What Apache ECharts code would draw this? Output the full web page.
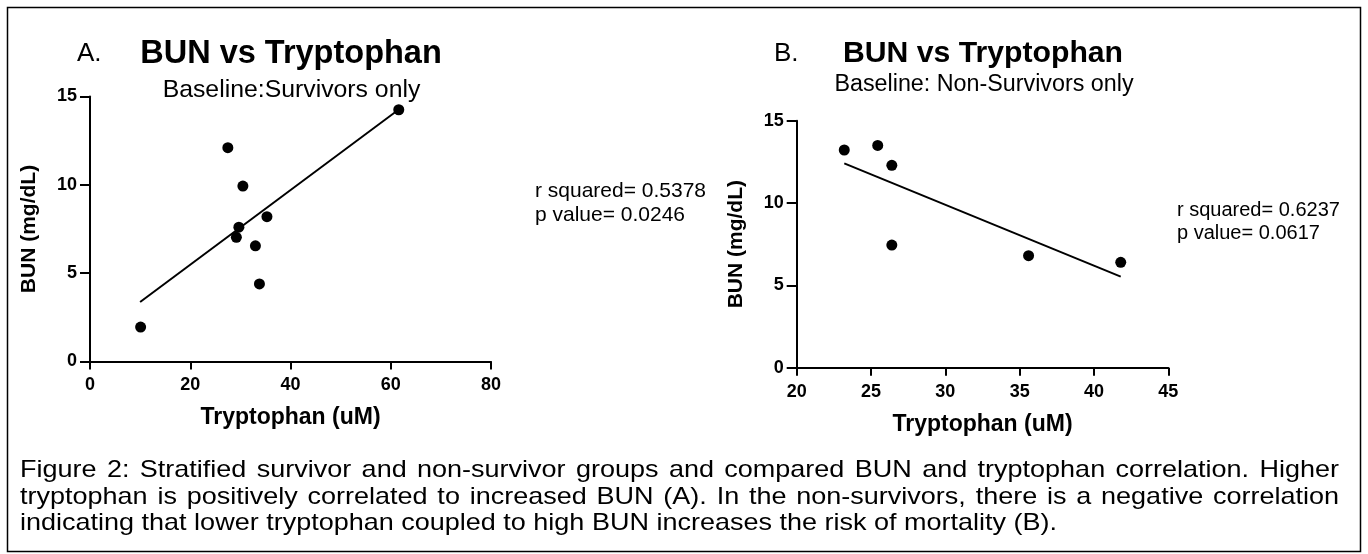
<!DOCTYPE html>
<html><head><meta charset="utf-8">
<script src="https://cdn.jsdelivr.net/npm/echarts@6/dist/echarts.min.js"></script>
<style>html,body{margin:0;padding:0;background:#fff}#c{width:1368px;height:554px}</style>
</head><body><div id="c"></div>
<script>
// ---- Data ----
const survivorTrp = [10.1, 27.5, 29.2, 29.7, 30.5, 33.0, 33.8, 35.3, 61.6];
const survivorBun = [1.95, 12.1, 7.03, 7.6, 9.93, 6.55, 4.39, 8.2, 14.25];
const survivorFitTrp = [10.0, 61.2];
const survivorFitBun = [3.37, 14.18];
const nonSurvivorTrp = [23.2, 25.45, 26.4, 26.4, 35.6, 41.8];
const nonSurvivorBun = [13.22, 13.5, 12.29, 7.45, 6.8, 6.4];
const nonSurvivorFitTrp = [23.2, 41.8];
const nonSurvivorFitBun = [12.41, 5.53];
const xTicksA = [0, 20, 40, 60, 80];
const xTicksB = [20, 25, 30, 35, 40, 45];
const yTicks = [0, 5, 10, 15];
const statsA = ['r squared= 0.5378', 'p value= 0.0246'];
const statsB = ['r squared= 0.6237', 'p value= 0.0617'];
const captionLines = [
  'Figure 2: Stratified survivor and non-survivor groups and compared BUN and tryptophan correlation. Higher',
  'tryptophan is positively correlated to increased BUN (A). In the non-survivors, there is a negative correlation',
  'indicating that lower tryptophan coupled to high BUN increases the risk of mortality (B).'
];

const FF = '"Liberation Sans", Arial, Helvetica, sans-serif';
const pairs = (xs, ys) => xs.map((x, i) => [x, ys[i]]);

function axisX(ticks, gridIndex) {
  return {
    type: 'value', gridIndex, min: ticks[0], max: ticks[ticks.length - 1],
    interval: ticks[1] - ticks[0],
    name: 'Tryptophan (uM)', nameLocation: 'middle', nameGap: 45,
    nameTextStyle: { color: '#000', fontFamily: FF, fontWeight: 'bold', fontSize: 23 },
    axisLine: { show: true, lineStyle: { color: '#000', width: 2 } },
    axisTick: { show: true, length: 8, lineStyle: { color: '#000', width: 2 } },
    axisLabel: { color: '#000', fontFamily: FF, fontWeight: 'bold', fontSize: 18, margin: 15 },
    splitLine: { show: false }
  };
}
function axisY(ticks, gridIndex) {
  return {
    type: 'value', gridIndex, min: ticks[0], max: ticks[ticks.length - 1],
    interval: ticks[1] - ticks[0],
    name: 'BUN (mg/dL)', nameLocation: 'middle', nameGap: 50, nameRotate: 90,
    nameTextStyle: { color: '#000', fontFamily: FF, fontWeight: 'bold', fontSize: 21 },
    axisLine: { show: true, lineStyle: { color: '#000', width: 2 } },
    axisTick: { show: true, length: 10, lineStyle: { color: '#000', width: 2 } },
    axisLabel: { color: '#000', fontFamily: FF, fontWeight: 'bold', fontSize: 18, margin: 13 },
    splitLine: { show: false }
  };
}

function txt(text, x, y, size, weight, align, sx) {
  const el = { type: 'text', x, y, style: { text, fill: '#000', fontFamily: FF, fontSize: size,
    fontWeight: weight || 'normal', align: align || 'left', verticalAlign: 'middle' } };
  if (sx) el.scaleX = sx;
  return el;
}

// caption layout (justified like the reference)
const capSize = 24;
const ctx = document.createElement('canvas').getContext('2d');
ctx.font = capSize + 'px ' + FF;
const capX = 20, capW = 1319, capLastW = 1037, capY = [470, 497, 523];
const capScale = capLastW / ctx.measureText(captionLines[captionLines.length - 1]).width;
const captionEls = [];
captionLines.forEach((line, li) => {
  if (li === captionLines.length - 1) {
    captionEls.push(txt(line, capX, capY[li], capSize, 'normal', 'left', capScale));
    return;
  }
  const words = line.split(' ');
  const ws = words.map(w => ctx.measureText(w).width * capScale);
  const gap = (capW - ws.reduce((a, b) => a + b, 0)) / (words.length - 1);
  let cx = capX;
  words.forEach((w, i) => {
    captionEls.push(txt(w, cx, capY[li], capSize, 'normal', 'left', capScale));
    cx += ws[i] + gap;
  });
});

const chart = echarts.init(document.getElementById('c'), null, { renderer: 'canvas' });
chart.setOption({
  backgroundColor: '#fff',
  animation: false,
  grid: [
    { left: 90, top: 96.5, width: 401, height: 265 },
    { left: 796.7, top: 120.7, width: 371.6, height: 247 }
  ],
  xAxis: [axisX(xTicksA, 0), axisX(xTicksB, 1)],
  yAxis: [axisY(yTicks, 0), axisY(yTicks, 1)],
  series: [
    { type: 'line', xAxisIndex: 0, yAxisIndex: 0, data: pairs(survivorFitTrp, survivorFitBun),
      symbol: 'none', lineStyle: { color: '#000', width: 2 }, silent: true },
    { type: 'scatter', xAxisIndex: 0, yAxisIndex: 0, data: pairs(survivorTrp, survivorBun),
      symbolSize: 11, itemStyle: { color: '#000', opacity: 1 } },
    { type: 'line', xAxisIndex: 1, yAxisIndex: 1, data: pairs(nonSurvivorFitTrp, nonSurvivorFitBun),
      symbol: 'none', lineStyle: { color: '#000', width: 2 }, silent: true },
    { type: 'scatter', xAxisIndex: 1, yAxisIndex: 1, data: pairs(nonSurvivorTrp, nonSurvivorBun),
      symbolSize: 11, itemStyle: { color: '#000', opacity: 1 } }
  ],
  graphic: [
    { type: 'rect', shape: { x: 7.5, y: 7.5, width: 1353, height: 544 },
      style: { fill: 'none', stroke: '#000', lineWidth: 1.5 } },
    txt('A.', 77, 54, 26),
    txt('BUN vs Tryptophan', 291, 54, 32.5, 'bold', 'center'),
    txt('Baseline:Survivors only', 291.5, 90, 24.8, 'normal', 'center'),
    txt('B.', 774, 54, 26),
    txt('BUN vs Tryptophan', 983, 54, 30.2, 'bold', 'center'),
    txt('Baseline: Non-Survivors only', 984, 85, 23.3, 'normal', 'center'),
    txt(statsA[0], 535, 191, 21),
    txt(statsA[1], 535, 215, 21),
    txt(statsB[0], 1177, 210, 20),
    txt(statsB[1], 1177, 233, 20)
  ].concat(captionEls)
});
</script></body></html>
